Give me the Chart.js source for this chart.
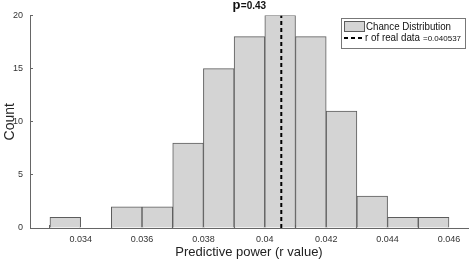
<!DOCTYPE html>
<html><head><meta charset="utf-8">
<script src="https://cdn.jsdelivr.net/npm/chart.js@4/dist/chart.umd.min.js"></script>
<style>html,body{margin:0;padding:0;background:#fff}#wrap{width:470px;height:264px;position:relative}</style>
</head><body><div id="wrap"><canvas id="c" width="470" height="264"></canvas></div>
<script>
// Histogram bins (left edges) and counts
const binStarts = [0.033,0.034,0.035,0.036,0.037,0.038,0.039,0.040,0.041,0.042,0.043,0.044,0.045];
const counts    = [1,0,2,2,8,15,18,20,18,11,3,1,1];
const binWidth = 0.001;
const realR = 0.040537;
const xTickValues = [0.034,0.036,0.038,0.040,0.042,0.044,0.046];
const xTickLabels = ['0.034','0.036','0.038','0.04','0.042','0.044','0.046'];
const yTickValues = [0,5,10,15,20];
const pValue = '0.43';

const barData = binStarts.map((s,i)=>({x:s+binWidth/2, y:counts[i]}));

const overlay = {
  id:'overlay',
  afterDraw(chart){
    const ctx = chart.ctx, a = chart.chartArea;
    ctx.save();
    // title
    ctx.fillStyle = '#111';
    ctx.textBaseline = 'alphabetic';
    const p = 'p';
    ctx.font = 'bold 13px "Liberation Sans", Arial, sans-serif';
    const w1 = ctx.measureText(p).width;
    ctx.font = 'bold 10px "Liberation Sans", Arial, sans-serif';
    const rest = '=' + pValue;
    const w2 = ctx.measureText(rest).width;
    const cx = (a.left + a.right)/2;
    let x0 = cx - (w1+w2)/2;
    ctx.font = 'bold 13px "Liberation Sans", Arial, sans-serif';
    ctx.fillText(p, x0, 9);
    ctx.font = 'bold 10px "Liberation Sans", Arial, sans-serif';
    ctx.fillText(rest, x0 + w1 + 0.5, 9);
    // legend
    const lx = 341, ly = 18, lw = 124, lh = 30;
    ctx.fillStyle = '#fff';
    ctx.fillRect(lx, ly, lw, lh);
    ctx.strokeStyle = '#777';
    ctx.lineWidth = 1;
    ctx.strokeRect(lx+0.5, ly+0.5, lw, lh);
    const ds0 = chart.data.datasets[0], ds1 = chart.data.datasets[1];
    ctx.fillStyle = ds0.backgroundColor;
    ctx.fillRect(lx+3, ly+3, 20, 10);
    ctx.strokeStyle = ds0.borderColor;
    ctx.strokeRect(lx+3.5, ly+3.5, 20, 10);
    ctx.strokeStyle = '#000';
    ctx.lineWidth = 2;
    ctx.setLineDash([4,3]);
    ctx.beginPath(); ctx.moveTo(lx+3, ly+20); ctx.lineTo(lx+23, ly+20); ctx.stroke();
    ctx.setLineDash([]);
    ctx.fillStyle = '#111';
    ctx.textBaseline = 'middle';
    ctx.font = '11px "Liberation Sans", Arial, sans-serif';
    ctx.fillText(ds0.label, lx+25, ly+9, 85);
    ctx.fillText(ds1.label, lx+24, ly+20, 55);
    ctx.font = '8px "Liberation Sans", Arial, sans-serif';
    ctx.fillText('=' + realR, lx+82, ly+21, 39);
    ctx.restore();
  }
};

new Chart(document.getElementById('c'), {
  type:'bar',
  data:{
    datasets:[
      {label:'Chance Distribution', data:barData, backgroundColor:'#d4d4d4', borderColor:'#5c5c5c', borderWidth:1,
       barPercentage:1, categoryPercentage:1, order:2},
      {type:'line', label:'r of real data', data:[{x:realR,y:0},{x:realR,y:20}], borderColor:'#000', borderWidth:2,
       borderDash:[4,3], pointRadius:0, fill:false, order:1}
    ]
  },
  options:{
    responsive:false, animation:false,
    layout:{padding:{top:14,right:2,left:0,bottom:0}},
    plugins:{legend:{display:false}, title:{display:false}, tooltip:{enabled:false}},
    scales:{
      x:{type:'linear', min:0.03235, max:0.04662, offset:false,
        grid:{drawOnChartArea:false, tickLength:-3, color:'#666'},
        border:{color:'#666'},
        afterBuildTicks(s){ s.ticks = xTickValues.map(v=>({value:v})); },
        afterFit(s){ s.height = 36; },
        ticks:{color:'#333', font:{size:9, family:'"Liberation Sans", Arial, sans-serif'}, padding:9, maxRotation:0,
          callback(v){ const i = xTickValues.findIndex(t=>Math.abs(t-v)<1e-9); return i>=0 ? xTickLabels[i] : ''; }},
        title:{display:true, text:'Predictive power (r value)', color:'#222', font:{size:13, family:'"Liberation Sans", Arial, sans-serif'}, padding:{top:0,bottom:4}}
      },
      y:{min:0, max:20,
        grid:{drawOnChartArea:false, tickLength:-3, color:'#666'},
        border:{color:'#666'},
        afterBuildTicks(s){ s.ticks = yTickValues.map(v=>({value:v})); },
        afterFit(s){ s.width = 30; },
        ticks:{color:'#333', font:{size:9, family:'"Liberation Sans", Arial, sans-serif'}, padding:10},
        title:{display:true, text:'Count', color:'#222', font:{size:14, family:'"Liberation Sans", Arial, sans-serif'}, padding:{top:2,bottom:0}}
      }
    }
  },
  plugins:[overlay]
});
</script></body></html>
